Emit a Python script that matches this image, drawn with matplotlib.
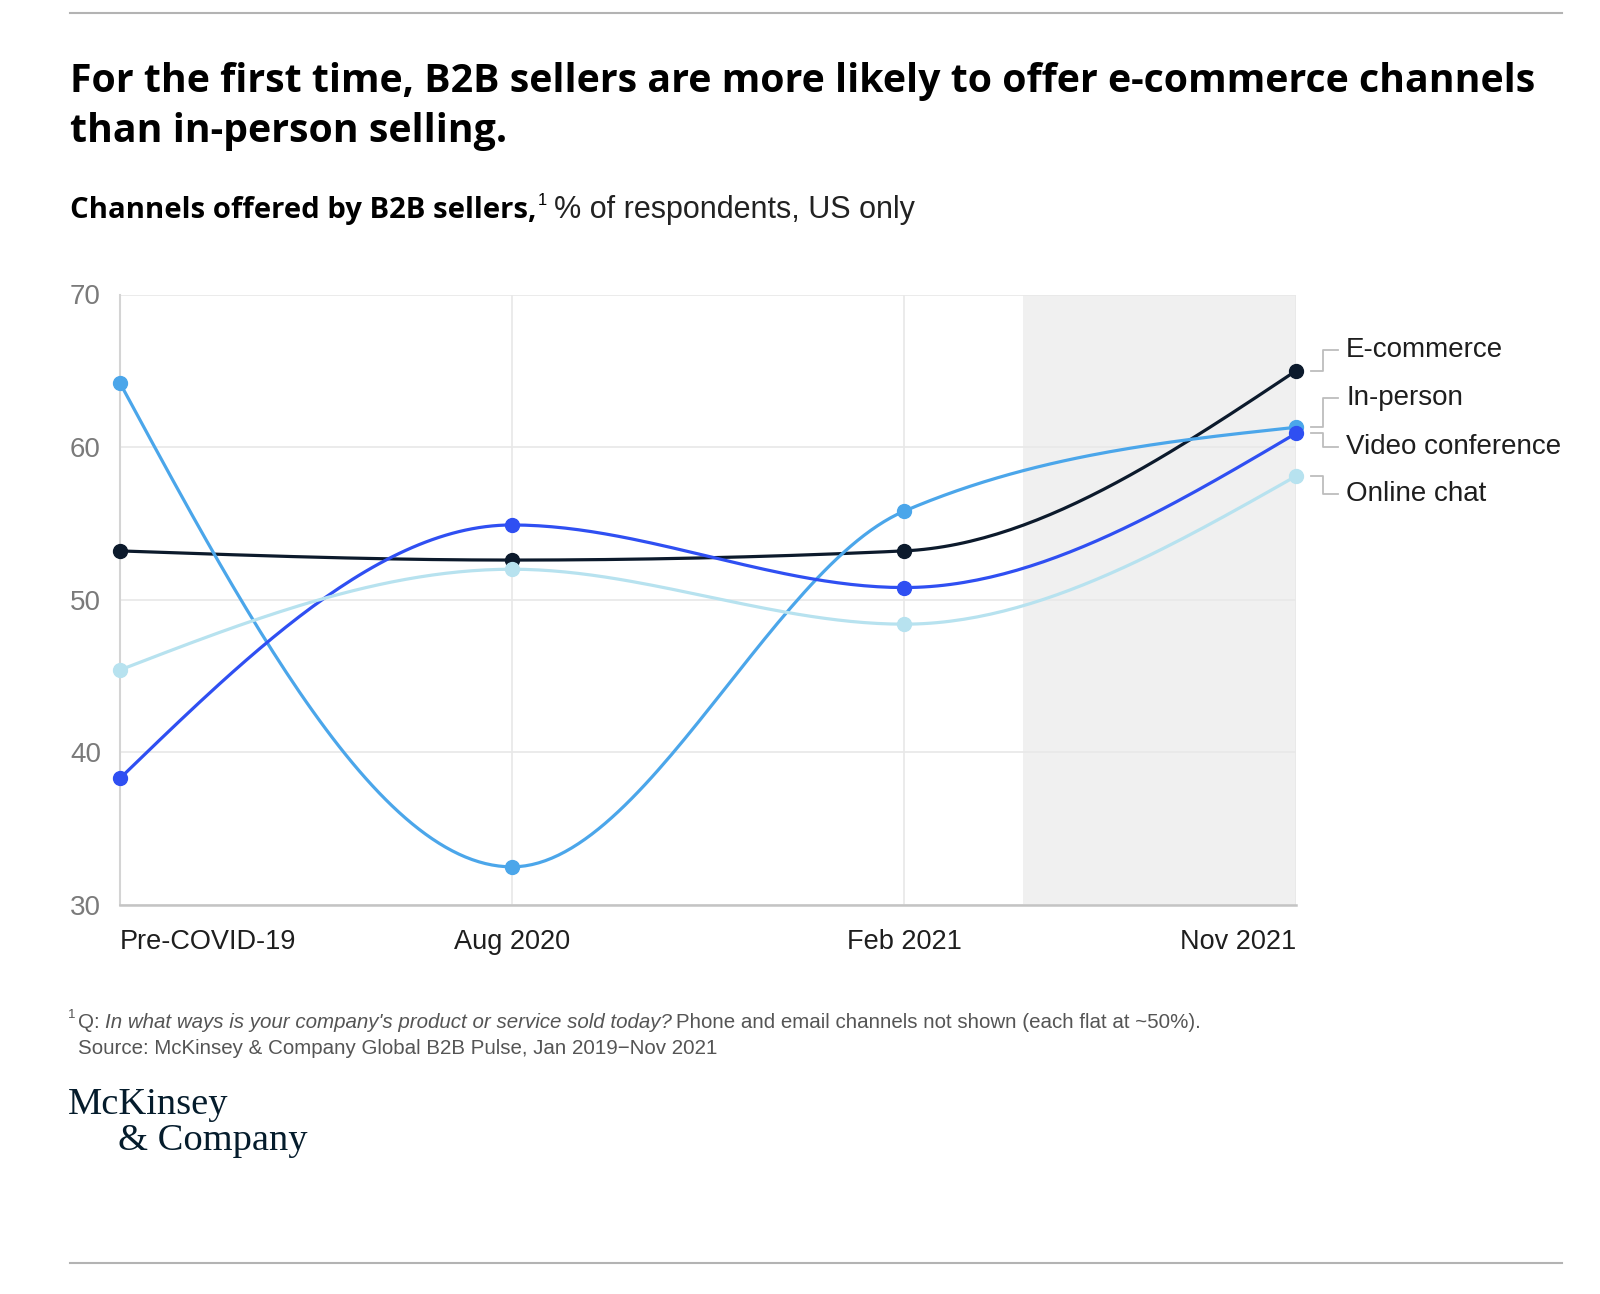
import numpy as np
import matplotlib
matplotlib.use("Agg")
import matplotlib.pyplot as plt

periods = ["Pre-COVID-19", "Aug 2020", "Feb 2021", "Nov 2021"]

ecommerce = [53.2, 52.6, 53.2, 65.0]
in_person = [64.2, 32.5, 55.8, 61.3]
video_conf = [38.3, 54.9, 50.8, 60.9]
online_chat = [45.4, 52.0, 48.4, 58.1]

channel_names = ["E-commerce", "In-person", "Video conference", "Online chat"]
channel_colors = ["#0c1a2c", "#4ba6ea", "#2f4ff2", "#b7e2ef"]

W, H = 1600, 1294
HEAD_FONT = "Open Sans"


def px(x, y):
    # pixel coords (from top-left) -> figure fraction
    return x / W, 1 - y / H


def monotone_curve(xs, ys, n=60):
    # same as d3.curveMonotoneX, just for drawing the smooth lines
    xs = np.asarray(xs, float)
    ys = np.asarray(ys, float)
    h = np.diff(xs)
    s = np.diff(ys) / h
    m = np.zeros(len(xs))
    for i in range(1, len(xs) - 1):
        p = (s[i - 1] * h[i] + s[i] * h[i - 1]) / (h[i - 1] + h[i])
        m[i] = (np.sign(s[i - 1]) + np.sign(s[i])) * min(abs(s[i - 1]), abs(s[i]), 0.5 * abs(p))
    m[0] = (3 * s[0] - m[1]) / 2
    m[-1] = (3 * s[-1] - m[-2]) / 2
    out_x, out_y = [], []
    for i in range(len(xs) - 1):
        t = np.linspace(0, 1, n)
        h00 = 2 * t**3 - 3 * t**2 + 1
        h10 = t**3 - 2 * t**2 + t
        h01 = -2 * t**3 + 3 * t**2
        h11 = t**3 - t**2
        yy = h00 * ys[i] + h10 * h[i] * m[i] + h01 * ys[i + 1] + h11 * h[i] * m[i + 1]
        out_x.extend(xs[i] + t * h[i])
        out_y.extend(yy)
    return out_x, out_y


fig = plt.figure(figsize=(16, 12.94), dpi=100)
fig.patch.set_facecolor("white")
renderer = fig.canvas.get_renderer()

# rules top and bottom
fig.add_artist(plt.Line2D([70 / W, 1562 / W], [1 - 12.5 / H] * 2, color="#b3b3b3", lw=1.5))
fig.add_artist(plt.Line2D([70 / W, 1562 / W], [1 - 1263 / H] * 2, color="#b3b3b3", lw=1.5))

# title
fig.text(*px(70, 92), "For the first time, B2B sellers are more likely to offer e-commerce channels",
         family=HEAD_FONT, weight="bold", fontsize=28.3, color="black", va="baseline")
fig.text(*px(70, 142), "than in-person selling.",
         family=HEAD_FONT, weight="bold", fontsize=28.3, color="black", va="baseline")

# subtitle, bold part then regular part
sub_bold = fig.text(*px(70, 218), "Channels offered by B2B sellers,", family=HEAD_FONT, weight="bold",
                    fontsize=21.1, color="black", va="baseline")
x_end = sub_bold.get_window_extent(renderer).x1
fig.text(x_end / W + 1 / W, 1 - 205 / H, "1", family="Liberation Sans", fontsize=12, color="black",
         va="baseline")
fig.text(x_end / W + 17 / W, 1 - 218 / H, "% of respondents, US only", family="Liberation Sans",
         fontsize=22, color="#222222", va="baseline")

# chart
ax = fig.add_axes([120 / W, 1 - 905 / H, (1296 - 120) / W, (905 - 294.5) / H])
ax.set_xlim(0, 3)
ax.set_ylim(30, 70)
ax.axvspan(2.303, 3, color="#f0f0f0", zorder=0, lw=0)

ax.set_yticks([30, 40, 50, 60, 70])
ax.set_xticks(range(len(periods)))
ax.set_xticklabels(periods)
ax.grid(True, color="#e8e8e8", lw=1.2, zorder=0.5)
ax.set_axisbelow(True)
ax.tick_params(axis="y", length=0, pad=36, labelsize=20, labelcolor="#7a7a7a")
ax.tick_params(axis="x", length=0, pad=17, labelsize=19.5, labelcolor="#1e1e1e")
for lab in ax.get_yticklabels():
    lab.set_horizontalalignment("left")
    lab.set_family("Liberation Sans")
for lab in ax.get_xticklabels():
    lab.set_family("Liberation Sans")
xl = ax.get_xticklabels()
xl[0].set_horizontalalignment("left")
xl[-1].set_horizontalalignment("right")

for side in ["top", "right"]:
    ax.spines[side].set_visible(False)
ax.spines["left"].set_color("#d4d4d4")
ax.spines["left"].set_linewidth(1.5)
ax.spines["bottom"].set_color("#c4c4c4")
ax.spines["bottom"].set_linewidth(1.8)

xs = list(range(len(periods)))
series = [ecommerce, in_person, video_conf, online_chat]
for vals, col in zip(series, channel_colors):
    cx, cy = monotone_curve(xs, vals)
    ax.plot(cx, cy, color=col, lw=2.3, zorder=3, clip_on=False, solid_capstyle="round")
    ax.plot(xs, vals, "o", color=col, ms=10, zorder=4, clip_on=False)

# end labels with elbow connectors
label_y = [66.35, 63.2, 60.0, 56.95]
x0, x1, x2, xt = 3.038, 3.069, 3.106, 3.128
for vals, name, ly in zip(series, channel_names, label_y):
    yv = vals[-1]
    ax.plot([x0, x1, x1, x2], [yv, yv, ly, ly], color="#bdbdbd", lw=1.3, clip_on=False, zorder=2)
    ax.text(xt, ly, name, family="Liberation Sans", fontsize=20, color="#1e1e1e",
            va="center", ha="left", clip_on=False)

# footnote and source
FN = 14.8
fig.text(*px(68, 1018), "1", family="Liberation Sans", fontsize=9.5, color="#555555", va="baseline")
q = fig.text(*px(78, 1028), "Q: ", family="Liberation Sans", fontsize=FN, color="#555555", va="baseline")
qx = q.get_window_extent(renderer).x1
it = fig.text(qx / W, 1 - 1028 / H, "In what ways is your company's product or service sold today?",
              family="Liberation Sans", style="italic", fontsize=FN, color="#555555", va="baseline")
ix = it.get_window_extent(renderer).x1
fig.text(ix / W + 4 / W, 1 - 1028 / H, "Phone and email channels not shown (each flat at ~50%).",
         family="Liberation Sans", fontsize=FN, color="#555555", va="baseline")
fig.text(*px(78, 1054), "Source: McKinsey & Company Global B2B Pulse, Jan 2019\u2212Nov 2021",
         family="Liberation Sans", fontsize=FN, color="#555555", va="baseline")

# logo
fig.text(*px(68, 1114), "McKinsey", family="Liberation Serif", fontsize=27.7, color="#051c2c",
         va="baseline")
fig.text(*px(118, 1150), "& Company", family="Liberation Serif", fontsize=27.7, color="#051c2c",
         va="baseline")

fig.savefig("out.png", dpi=100, facecolor="white")
